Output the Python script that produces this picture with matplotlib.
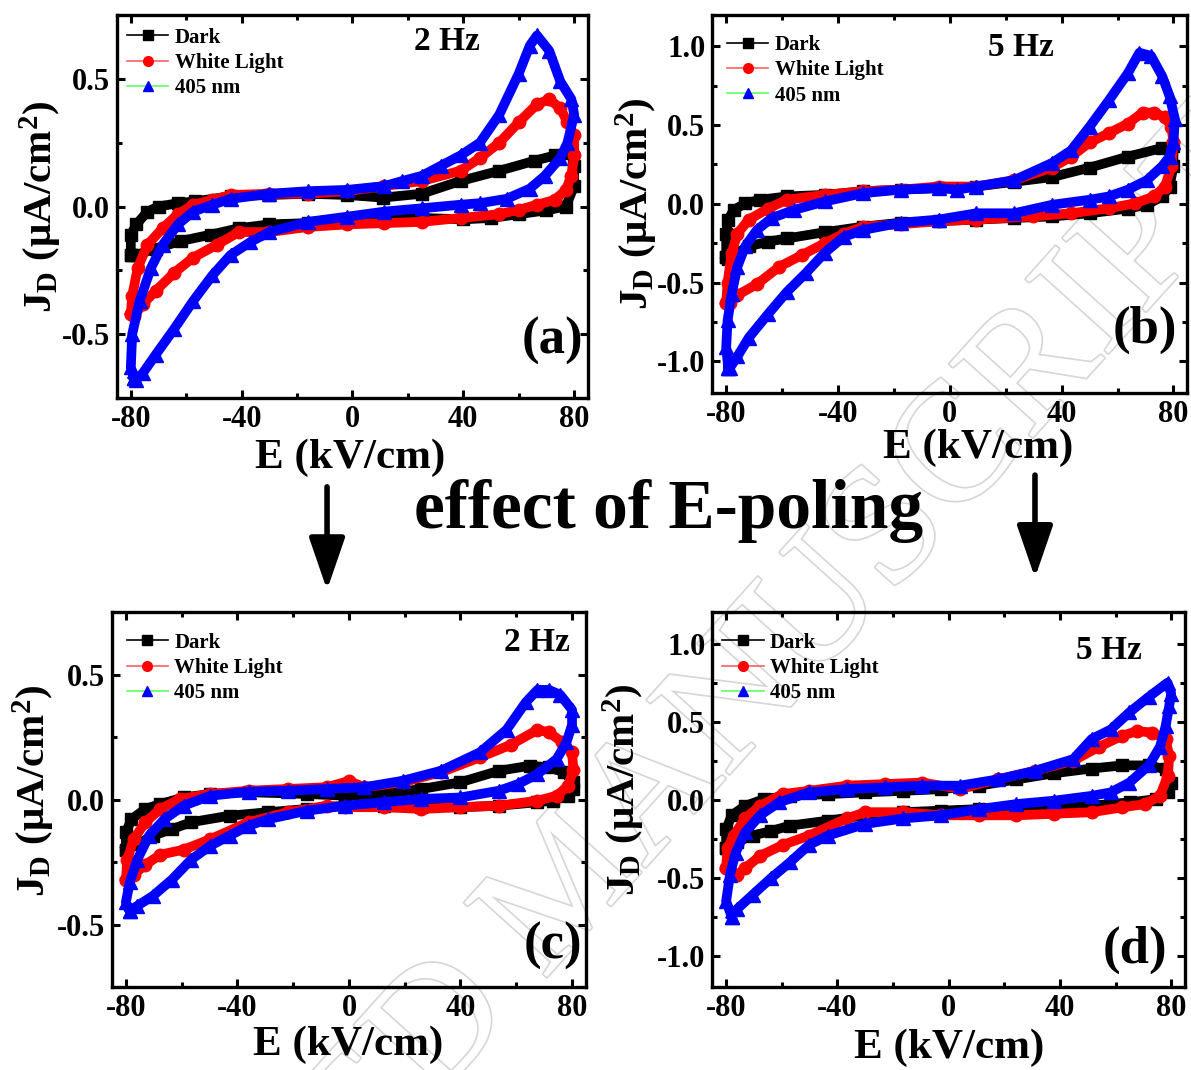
import numpy as np
import matplotlib.pyplot as plt
from matplotlib.lines import Line2D
from matplotlib.patches import FancyArrowPatch
from matplotlib.ticker import MultipleLocator
import matplotlib.patheffects as pe

plt.rcParams['font.family'] = ['Liberation Serif', 'DejaVu Serif']
plt.rcParams['font.weight'] = 'bold'
plt.rcParams['axes.unicode_minus'] = False
plt.rcParams['mathtext.fontset'] = 'custom'
plt.rcParams['mathtext.rm'] = 'Liberation Serif:bold'
plt.rcParams['mathtext.bf'] = 'Liberation Serif:bold'
plt.rcParams['mathtext.it'] = 'Liberation Serif:bold'

# each loop: forward sweep (-80 -> 80) then reverse sweep (80 -> -80)
# panel (a): 2 Hz, before poling
a_dark_E = [-80, -80, -78, -74, -70, -63, -57, -44, -30, -16, -2, 11, 25, 39, 53, 66, 73, 79,
            80, 80, 77, 70, 60, 50, 40, 25, 11, -2, -16, -30, -41, -51, -62, -71, -78]
a_dark_J = [-0.19, -0.11, -0.07, -0.02, 0.0, 0.013, 0.02, 0.04, 0.045, 0.05, 0.045, 0.035, 0.05, 0.10, 0.14, 0.18, 0.20, 0.21,
            0.16, 0.08, 0.0, -0.015, -0.03, -0.045, -0.05, -0.045, -0.045, -0.055, -0.065, -0.07, -0.085, -0.11, -0.135, -0.165, -0.19]
a_white_E = [-80, -79.5, -77.5, -74, -68.5, -63, -57.5, -50.6, -44, -30, -16, -2, 11.5, 25, 39, 46, 53, 60, 66.6, 71, 75, 77.6, 80,
             80, 79, 77, 73, 66.6, 60, 53, 39, 25, 11.5, -2, -16, -30, -41, -49, -57.5, -64.4, -71, -75.5, -79]
a_white_J = [-0.42, -0.35, -0.24, -0.15, -0.085, -0.03, 0.007, 0.026, 0.045, 0.05, 0.05, 0.06, 0.08, 0.10, 0.14, 0.19, 0.25, 0.33, 0.40, 0.42, 0.385, 0.33, 0.28,
             0.20, 0.12, 0.065, 0.026, 0.007, -0.013, -0.03, -0.045, -0.06, -0.065, -0.07, -0.08, -0.1, -0.1, -0.15, -0.2, -0.26, -0.33, -0.38, -0.43]
a_blue_E = [-79, -80, -79.5, -76.8, -72.7, -68.5, -63, -57.5, -50.6, -44, -30, -16, -2, 11.5, 18, 25, 32, 39, 46, 53, 60, 64, 66.6, 71, 75, 79, 80,
            77.6, 75, 69.4, 64, 55.6, 46, 39, 25, 11.5, -2, -16, -30, -37, -44, -50.6, -57.5, -64.4, -71, -75.5, -78]
a_blue_J = [-0.67, -0.63, -0.5, -0.37, -0.24, -0.15, -0.07, -0.02, 0.007, 0.03, 0.05, 0.06, 0.065, 0.08, 0.10, 0.12, 0.16, 0.2, 0.25, 0.36, 0.52, 0.63, 0.67, 0.61, 0.49, 0.42, 0.36,
            0.25, 0.19, 0.12, 0.07, 0.03, 0.013, 0.007, -0.007, -0.02, -0.04, -0.06, -0.1, -0.14, -0.19, -0.27, -0.37, -0.48, -0.58, -0.65, -0.68]

# panel (b): 5 Hz, before poling
b_dark_E = [-80, -80, -79.3, -77.3, -73.2, -67.8, -58.3, -44.7, -31, -17.6, -4, 9.5, 23, 36.6, 50, 63.7, 76, 80,
            80, 78.6, 76, 70.5, 63.7, 50, 36.6, 23, 9.5, -4, -17.6, -31, -44.7, -58.3, -65, -71.9, -76, -79.3]
b_dark_J = [-0.34, -0.19, -0.1, -0.04, 0.004, 0.026, 0.047, 0.057, 0.08, 0.09, 0.1, 0.11, 0.14, 0.17, 0.23, 0.30, 0.355, 0.37,
            0.24, 0.11, 0.047, -0.006, -0.03, -0.06, -0.08, -0.09, -0.1, -0.11, -0.12, -0.145, -0.18, -0.22, -0.24, -0.27, -0.31, -0.35]
b_white_E = [-80, -79.5, -78, -76, -71.9, -65, -58.3, -44.7, -31, -17.6, -4, 9.5, 23, 36.6, 43.4, 50, 57, 63.7, 69, 73, 77, 79.3, 80,
             79.3, 77, 73, 66.4, 57, 43.4, 29.8, 9.5, -4, -17.6, -31, -38, -44.7, -52.9, -61, -69, -76, -78.6]
b_white_J = [-0.63, -0.5, -0.31, -0.19, -0.1, -0.03, 0.026, 0.057, 0.08, 0.09, 0.11, 0.11, 0.15, 0.23, 0.30, 0.39, 0.45, 0.51, 0.58, 0.58, 0.55, 0.49, 0.39,
             0.24, 0.11, 0.047, 0.004, -0.028, -0.06, -0.08, -0.1, -0.11, -0.13, -0.145, -0.19, -0.25, -0.325, -0.4, -0.51, -0.58, -0.63]
b_blue_E = [-79.3, -80, -79.5, -78, -76, -73.2, -69, -63.7, -55.6, -44.7, -31, -17.6, -4, 2.7, 9.5, 23, 36.6, 43.4, 50, 57, 63.7, 67.8, 72, 76, 78.6, 80.5,
            80, 78.6, 76, 70.5, 63.7, 57, 50, 36.6, 23, 9.5, -4, -17.6, -31, -38, -44.7, -51.5, -58.3, -65, -71.9, -76, -78.6]
b_blue_J = [-1.04, -0.91, -0.74, -0.57, -0.4, -0.27, -0.166, -0.09, -0.038, 0.015, 0.068, 0.09, 0.1, 0.09, 0.11, 0.15, 0.26, 0.34, 0.49, 0.66, 0.83, 0.96, 0.94, 0.81, 0.685, 0.54,
            0.39, 0.30, 0.24, 0.15, 0.09, 0.047, 0.026, -0.006, -0.06, -0.06, -0.1, -0.12, -0.166, -0.21, -0.31, -0.44, -0.56, -0.70, -0.85, -0.97, -1.04]

# panel (c): 2 Hz, after E-poling
c_dark_E = [-80, -80, -78, -73, -67.6, -59.3, -49.7, -36, -15, -1.4, 12.4, 26, 40, 53.8, 64.8, 71.7, 77, 80.5,
            80.5, 78.6, 73, 67.6, 53.8, 40, 26, 12.4, -1.4, -15, -29, -42.8, -56.6, -63.5, -70.3, -75.9]
c_dark_J = [-0.2, -0.13, -0.078, -0.037, -0.017, 0.009, 0.023, 0.03, 0.023, 0.016, 0.023, 0.043, 0.07, 0.116, 0.136, 0.13, 0.11, 0.07,
            0.043, 0.016, -0.004, -0.01, -0.024, -0.03, -0.03, -0.024, -0.024, -0.037, -0.05, -0.064, -0.09, -0.118, -0.144, -0.178]
c_white_E = [-80, -79.5, -77.2, -73, -67.6, -60.7, -49.7, -36, -22, -8, 0, 5.5, 19.3, 33, 47, 58, 67.6, 71.7, 76.5, 80,
             80.5, 78.6, 74.5, 67.6, 53.8, 40, 26, 12.4, -1.4, -8, -22, -36, -49.7, -59.3, -67.6, -73, -77.2]
c_white_J = [-0.32, -0.24, -0.158, -0.09, -0.037, 0.003, 0.023, 0.036, 0.043, 0.05, 0.075, 0.05, 0.07, 0.11, 0.17, 0.22, 0.28, 0.27, 0.23, 0.19,
             0.12, 0.056, 0.016, -0.004, -0.024, -0.03, -0.037, -0.03, -0.03, -0.024, -0.05, -0.09, -0.158, -0.2, -0.22, -0.26, -0.3]
c_blue_E = [-78.6, -80, -78.6, -75.9, -71.7, -66.2, -59.3, -49.7, -36, -22, -8, 5.5, 19.3, 33, 47, 56.5, 63.4, 67.6, 71.7, 75.8, 80,
            80, 78, 74.5, 67.6, 60.7, 53.8, 40, 26, 12.4, -1.4, -15, -29, -36, -42.8, -49.7, -56.6, -63.5, -70.3, -75.9]
c_blue_J = [-0.445, -0.41, -0.33, -0.24, -0.144, -0.078, -0.024, 0.016, 0.032, 0.036, 0.043, 0.05, 0.076, 0.116, 0.19, 0.28, 0.39, 0.44, 0.44, 0.42, 0.36,
            0.3, 0.23, 0.163, 0.103, 0.063, 0.036, 0.009, 0.003, -0.01, -0.024, -0.044, -0.078, -0.104, -0.144, -0.184, -0.24, -0.32, -0.385, -0.425]

# panel (d): 5 Hz, after E-poling
d_dark_E = [-80, -80, -78, -73.2, -66.4, -57, -43.4, -30, -16.3, -2.7, 11, 24.4, 38, 51.5, 62.4, 71.9, 78,
            80, 78.7, 74.6, 65.1, 51.5, 38, 24.4, 11, -2.7, -16.3, -30, -43.4, -57, -63.7, -70.5, -76, -79.3]
d_dark_J = [-0.31, -0.19, -0.1, -0.04, 0.004, 0.025, 0.036, 0.047, 0.057, 0.068, 0.09, 0.13, 0.17, 0.2, 0.22, 0.22, 0.195,
            0.11, 0.047, 0.004, -0.017, -0.038, -0.049, -0.049, -0.06, -0.07, -0.08, -0.1, -0.134, -0.166, -0.2, -0.23, -0.27, -0.31]
d_white_E = [-80, -79.5, -77.3, -73.2, -67.8, -59.7, -50.2, -36.6, -23, -9.5, 4, 17.6, 31, 44.8, 54.2, 62.4, 67.8, 73.2, 78,
             79.3, 78.7, 76, 70.5, 62.4, 51.5, 38, 24.4, 11, -2.7, -16.3, -30, -36.6, -50.2, -59.7, -67.8, -73.2, -76]
d_white_J = [-0.44, -0.31, -0.23, -0.12, -0.04, 0.036, 0.057, 0.09, 0.1, 0.11, 0.07, 0.13, 0.185, 0.25, 0.34, 0.41, 0.44, 0.43, 0.39,
             0.28, 0.15, 0.025, -0.028, -0.049, -0.08, -0.09, -0.1, -0.1, -0.1, -0.08, -0.08, -0.12, -0.23, -0.29, -0.36, -0.44, -0.48]
d_blue_E = [-78, -80, -78.6, -76.6, -73.2, -67.8, -61, -50.2, -36.6, -23, -9.5, 4, 17.6, 31, 44.8, 51.5, 58.3, 65, 72, 78.7, 80,
            79.3, 78, 76, 72, 65, 58.3, 51.5, 38, 24.4, 11, -2.7, -16.3, -30, -43.4, -50.2, -57, -63.7, -70.5, -76]
d_blue_J = [-0.75, -0.65, -0.48, -0.34, -0.21, -0.1, -0.017, 0.047, 0.068, 0.079, 0.09, 0.09, 0.13, 0.185, 0.26, 0.39, 0.45, 0.56, 0.66, 0.75, 0.68,
            0.6, 0.47, 0.34, 0.22, 0.11, 0.047, 0.025, -0.006, -0.028, -0.06, -0.1, -0.12, -0.155, -0.23, -0.29, -0.4, -0.5, -0.61, -0.7]

series_labels = ['Dark', 'White Light', '405 nm']
marker_colors = ['black', 'red', 'blue']
line_colors = ['black', '#ff6060', '#60ff60']
markers = ['s', 'o', '^']
msizes = [8, 9, 10]

panels = [
    dict(tag='(a)', freq='2 Hz', data=[(a_dark_E, a_dark_J), (a_white_E, a_white_J), (a_blue_E, a_blue_J)],
         rect=[0.0982, 0.628, 0.3955, 0.358], ylim=(-0.75, 0.75), yticks=[-0.5, 0.0, 0.5],
         freq_xy=(0.70, 0.93), tag_xy=(0.925, 0.15), ylab=(-0.162, 0.50), xlab=(0.495, -0.157),
         leg=(-0.01, 1.005)),
    dict(tag='(b)', freq='5 Hz', data=[(b_dark_E, b_dark_J), (b_white_E, b_white_J), (b_blue_E, b_blue_J)],
         rect=[0.598, 0.633, 0.399, 0.353], ylim=(-1.2, 1.2), yticks=[-1.0, -0.5, 0.0, 0.5, 1.0],
         freq_xy=(0.65, 0.913), tag_xy=(0.91, 0.167), ylab=(-0.158, 0.50), xlab=(0.56, -0.147),
         leg=(0.0, 0.985)),
    dict(tag='(c)', freq='2 Hz', data=[(c_dark_E, c_dark_J), (c_white_E, c_white_J), (c_blue_E, c_blue_J)],
         rect=[0.094, 0.0776, 0.398, 0.350], ylim=(-0.75, 0.75), yticks=[-0.5, 0.0, 0.5],
         freq_xy=(0.897, 0.92), tag_xy=(0.93, 0.11), ylab=(-0.165, 0.525), xlab=(0.498, -0.155),
         leg=(0.0, 0.985)),
    dict(tag='(d)', freq='5 Hz', data=[(d_dark_E, d_dark_J), (d_white_E, d_white_J), (d_blue_E, d_blue_J)],
         rect=[0.598, 0.0776, 0.397, 0.350], ylim=(-1.2, 1.2), yticks=[-1.0, -0.5, 0.0, 0.5, 1.0],
         freq_xy=(0.84, 0.898), tag_xy=(0.894, 0.10), ylab=(-0.186, 0.527), xlab=(0.50, -0.163),
         leg=(-0.01, 0.985)),
]

fig = plt.figure(figsize=(11.91, 10.70), dpi=100)
fig.patch.set_facecolor('white')

# faint watermark behind everything
fig.text(0.48, 0.17, 'ACCEPTED MANUSCRIPT', rotation=48, fontsize=122, fontweight='normal',
         color='white', ha='center', va='center', rotation_mode='anchor', zorder=-5,
         path_effects=[pe.withStroke(linewidth=2.4, foreground='#d6d6d6')])

for p in panels:
    ax = fig.add_axes(p['rect'])
    ax.set_facecolor('none')
    for (E, J), mc, m, ms in zip(p['data'], marker_colors, markers, msizes):
        E = np.r_[E, E[:1]]
        J = np.r_[J, J[:1]]
        ax.plot(E, J, color=mc, lw=7, marker=m, ms=ms, mfc=mc, mec=mc, solid_joinstyle='round')
    ax.set_xlim(-85, 85)
    ax.set_ylim(*p['ylim'])
    ax.set_xticks([-80, -40, 0, 40, 80])
    ax.set_yticks(p['yticks'])
    ax.yaxis.set_major_formatter(plt.FuncFormatter(lambda v, pos: f'{v:.1f}'))
    ax.xaxis.set_minor_locator(MultipleLocator(20))
    ax.yaxis.set_minor_locator(MultipleLocator(0.25))
    ax.tick_params(which='both', direction='in', top=True, right=True, labelsize=22, width=2.2)
    ax.tick_params(which='major', length=6, pad=5)
    ax.tick_params(which='minor', length=3.5)
    for s in ax.spines.values():
        s.set_linewidth(2.4)

    ax.set_xlabel('E (kV/cm)', fontsize=31, fontweight='bold', va='center')
    ax.xaxis.set_label_coords(*p['xlab'])
    ax.set_ylabel(r'J$_\mathrm{D}$ ($\mathrm{\mu}$A/cm$^\mathrm{2}$)', fontsize=29.5, fontweight='bold',
                  va='center')
    ax.yaxis.set_label_coords(*p['ylab'])

    ax.text(*p['freq_xy'], p['freq'], transform=ax.transAxes, fontsize=24, fontweight='bold',
            ha='center', va='center')
    ax.text(*p['tag_xy'], p['tag'], transform=ax.transAxes, fontsize=38, fontweight='bold',
            ha='center', va='center')

    handles = [Line2D([], [], color=lc, lw=1.2, marker=m, ms=7, mfc=mc, mec=mc)
               for lc, mc, m in zip(line_colors, marker_colors, markers)]
    ax.legend(handles, series_labels, loc='upper left', bbox_to_anchor=p['leg'], frameon=False,
              prop={'size': 15, 'weight': 'bold'}, handlelength=2.0, handletextpad=0.3,
              labelspacing=0.25, borderaxespad=0.3)

fig.text(0.561, 0.522, 'effect of E-poling', fontsize=50, fontweight='bold', ha='center', va='center')

for x, y0, y1 in [(0.2746, 0.545, 0.4486), (0.869, 0.556, 0.46)]:
    arr = FancyArrowPatch((x, y0), (x, y1), transform=fig.transFigure, color='black', lw=4,
                          arrowstyle='-|>,head_length=1.6,head_width=0.55', mutation_scale=20,
                          shrinkA=0, shrinkB=0)
    fig.add_artist(arr)

fig.savefig('out.png', dpi=100, facecolor='white')
